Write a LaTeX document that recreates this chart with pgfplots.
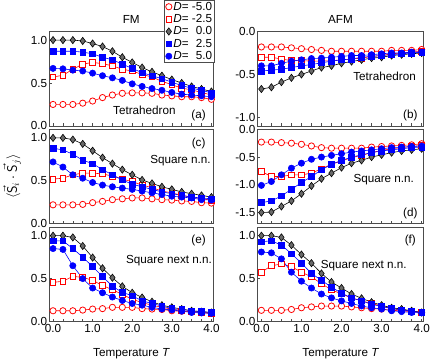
\documentclass[border=0pt]{standalone}
\usepackage{fontspec}
\setmainfont{Liberation Sans}
\usepackage{pgfplots}
\usepackage{pgfplotstable}
\pgfplotsset{compat=1.18}
\usepgfplotslibrary{groupplots}
\usetikzlibrary{calc}
\definecolor{dgray}{RGB}{105,105,105}
\newcommand{\lblfont}{\fontsize{12}{13}\selectfont}

% columns: T, D=-5.0, D=-2.5, D=0.0, D=2.5, D=5.0
\pgfplotstableread{
T    m5    m25   z     p25   p5
0.00 0.25  0.57  1.00  0.87  0.67
0.25 0.25  0.59  1.00  0.87  0.665
0.50 0.25  0.66  1.00  0.87  0.65
0.75 0.265 0.72  0.99  0.86  0.64
1.00 0.29  0.74  0.96  0.84  0.615
1.25 0.33  0.725 0.925 0.80  0.585
1.50 0.36  0.70  0.87  0.77  0.56
1.75 0.38  0.66  0.80  0.72  0.53
2.00 0.385 0.64  0.74  0.67  0.49
2.25 0.385 0.60  0.68  0.62  0.46
2.50 0.38  0.57  0.63  0.585 0.435
2.75 0.36  0.52  0.585 0.55  0.415
3.00 0.35  0.48  0.54  0.51  0.39
3.25 0.34  0.44  0.50  0.47  0.37
3.50 0.34  0.42  0.46  0.44  0.36
3.75 0.33  0.39  0.43  0.415 0.35
4.00 0.31  0.36  0.40  0.385 0.34
}\tetFM

\pgfplotstableread{
T    m5    m25   z     p25   p5
0.00 -0.18 -0.30 -0.67 -0.46 -0.40
0.25 -0.18 -0.30 -0.65 -0.45 -0.40
0.50 -0.18 -0.32 -0.59 -0.44 -0.37
0.75 -0.19 -0.34 -0.54 -0.42 -0.345
1.00 -0.20 -0.34 -0.50 -0.40 -0.33
1.25 -0.21 -0.345 -0.46 -0.385 -0.315
1.50 -0.22 -0.345 -0.42 -0.365 -0.31
1.75 -0.23 -0.34 -0.40 -0.345 -0.30
2.00 -0.23 -0.33 -0.37 -0.33 -0.29
2.25 -0.23 -0.32 -0.35 -0.32 -0.28
2.50 -0.23 -0.31 -0.33 -0.30 -0.28
2.75 -0.23 -0.29 -0.31 -0.29 -0.27
3.00 -0.23 -0.28 -0.30 -0.28 -0.26
3.25 -0.22 -0.26 -0.28 -0.27 -0.25
3.50 -0.22 -0.25 -0.27 -0.26 -0.25
3.75 -0.22 -0.24 -0.26 -0.25 -0.24
4.00 -0.21 -0.23 -0.25 -0.24 -0.24
}\tetAFM

\pgfplotstableread{
T    m5    m25   z     p25   p5
0.00 0.22  0.52  1.00  0.88  0.72
0.25 0.22  0.53  1.00  0.86  0.66
0.50 0.22  0.57  0.98  0.81  0.57
0.75 0.225 0.59  0.93  0.74  0.53
1.00 0.245 0.59  0.85  0.70  0.48
1.25 0.26  0.58  0.77  0.63  0.45
1.50 0.28  0.555 0.70  0.57  0.43
1.75 0.29  0.52  0.63  0.51  0.415
2.00 0.30  0.49  0.57  0.46  0.40
2.25 0.30  0.45  0.51  0.43  0.38
2.50 0.29  0.42  0.47  0.40  0.36
2.75 0.28  0.38  0.43  0.37  0.34
3.00 0.275 0.36  0.40  0.35  0.32
3.25 0.265 0.33  0.37  0.33  0.31
3.50 0.26  0.31  0.35  0.31  0.30
3.75 0.245 0.29  0.33  0.30  0.28
4.00 0.24  0.275 0.31  0.29  0.275
}\sqFM

\pgfplotstableread{
T    m5    m25   z     p25   p5
0.00 -0.23 -0.76 -1.50 -1.32 -1.01
0.25 -0.23 -0.85 -1.49 -1.29 -0.94
0.50 -0.24 -0.85 -1.39 -1.20 -0.82
0.75 -0.25 -0.82 -1.29 -1.08 -0.70
1.00 -0.27 -0.82 -1.16 -0.96 -0.61
1.25 -0.30 -0.79 -1.02 -0.85 -0.54
1.50 -0.33 -0.71 -0.89 -0.73 -0.50
1.75 -0.34 -0.63 -0.79 -0.63 -0.47
2.00 -0.34 -0.57 -0.69 -0.56 -0.44
2.25 -0.34 -0.51 -0.61 -0.50 -0.41
2.50 -0.34 -0.47 -0.56 -0.46 -0.39
2.75 -0.32 -0.42 -0.50 -0.42 -0.37
3.00 -0.31 -0.38 -0.46 -0.39 -0.35
3.25 -0.30 -0.35 -0.42 -0.37 -0.33
3.50 -0.29 -0.33 -0.39 -0.35 -0.32
3.75 -0.28 -0.31 -0.37 -0.33 -0.31
4.00 -0.26 -0.29 -0.35 -0.32 -0.30
}\sqAFM

\pgfplotstableread{
T    m5    m25   z     p25   p5
0.00 0.125 0.455 1.00  0.94  0.85
0.25 0.125 0.47  1.00  0.94  0.84
0.50 0.125 0.525 0.98  0.85  0.65
0.75 0.133 0.515 0.88  0.75  0.50
1.00 0.145 0.48  0.745 0.64  0.39
1.25 0.15  0.42  0.62  0.525 0.335
1.50 0.165 0.37  0.51  0.41  0.285
1.75 0.165 0.315 0.41  0.34  0.245
2.00 0.165 0.26  0.335 0.30  0.21
2.25 0.15  0.22  0.28  0.24  0.19
2.50 0.145 0.19  0.23  0.21  0.165
2.75 0.14  0.165 0.19  0.18  0.145
3.00 0.125 0.145 0.165 0.15  0.135
3.25 0.12  0.125 0.145 0.14  0.12
3.50 0.115 0.115 0.125 0.125 0.105
3.75 0.105 0.105 0.115 0.115 0.10
4.00 0.095 0.095 0.105 0.105 0.095
}\nnnFM

\pgfplotstableread{
T    m5    m25   z     p25   p5
0.00 0.13  0.575 1.00  0.93  0.81
0.25 0.13  0.65  1.00  0.94  0.80
0.50 0.13  0.67  0.98  0.89  0.73
0.75 0.14  0.64  0.89  0.79  0.575
1.00 0.16  0.575 0.78  0.68  0.47
1.25 0.17  0.52  0.68  0.56  0.39
1.50 0.18  0.44  0.56  0.48  0.32
1.75 0.18  0.37  0.46  0.40  0.275
2.00 0.18  0.32  0.39  0.33  0.24
2.25 0.17  0.275 0.32  0.275 0.21
2.50 0.16  0.24  0.27  0.24  0.18
2.75 0.15  0.21  0.225 0.20  0.16
3.00 0.145 0.18  0.19  0.175 0.145
3.25 0.13  0.15  0.16  0.15  0.125
3.50 0.125 0.135 0.145 0.135 0.115
3.75 0.115 0.12  0.125 0.12  0.105
4.00 0.105 0.105 0.105 0.105 0.10
}\nnnAFM

\pgfplotsset{
  sm5/.style={red, line width=0.6bp, mark=*, mark size=3.2bp, mark options={fill=white, draw=red, line width=0.8bp}},
  sm25/.style={red, line width=0.6bp, mark=square*, mark size=2.9bp, mark options={fill=white, draw=red, line width=0.8bp}},
  sz/.style={black, line width=0.6bp, mark=diamond*, mark size=3.7bp, mark options={fill=dgray, draw=black, line width=0.6bp}},
  sp25/.style={blue, line width=0.6bp, mark=square*, mark size=2.9bp, mark options={fill=blue, draw=blue}},
  sp5/.style={blue, line width=0.6bp, mark=*, mark size=3.2bp, mark options={fill=blue, draw=blue}},
}

\newcommand{\allplots}[1]{%
  \addplot[sm5] table[x=T, y=m5] {#1};
  \addplot[sm25] table[x=T, y=m25] {#1};
  \addplot[sz] table[x=T, y=z] {#1};
  \addplot[sp25] table[x=T, y=p25] {#1};
  \addplot[sp5] table[x=T, y=p5] {#1};
}

\begin{document}
\begin{tikzpicture}
\begin{groupplot}[
  group style={group size=2 by 3, horizontal sep=45bp, vertical sep=3.5bp,
               xticklabels at=edge bottom},
  scale only axis,
  width=168bp, height=96.5bp,
  xmin=-0.1, xmax=4.05,
  xtick={0,1,2,3,4},
  xticklabels={0.0,1.0,2.0,3.0,4.0},
  minor xtick={0,0.25,...,4},
  xtick pos=lower, ytick pos=left,
  tick align=inside,
  major tick length=3bp, minor tick length=3bp,
  axis line style={black!70, line width=0.6bp},
  every tick/.style={black!70, line width=0.5bp},
  every minor tick/.style={black!70, line width=0.5bp},
  tick label style={font=\lblfont},
  yticklabel style={xshift=1.5bp},
  xticklabel style={yshift=0.5bp},
  label style={font=\lblfont},
  title style={font=\lblfont, yshift=-1bp},
  clip=false,
]
% (a)
\nextgroupplot[ymin=0, ymax=1.1, ytick={0,0.5,1}, yticklabels={0.0,0.5,1.0},
  title={FM},
  legend style={at={(rel axis cs:0.702,1.334)}, anchor=north west,
    draw=black!70, fill=white, font=\lblfont, line width=0.6bp,
    inner xsep=1bp, inner ysep=0.3bp, nodes={inner ysep=1.4bp, inner xsep=1.5bp}},
  legend cell align=left,
  legend image code/.code={\draw[#1] plot coordinates {(0.14cm,0cm)};}]
\coordinate (tl) at (rel axis cs:0,1);
\allplots{\tetFM}
\legend{{\itshape D}= -5.0, {\itshape D}= -2.5, {\itshape D}= \phantom{-}0.0, {\itshape D}= \phantom{-}2.5, {\itshape D}= \phantom{-}5.0}
\node[font=\lblfont] at (rel axis cs:0.58,0.16) {Tetrahedron};
\node[font=\lblfont] at (rel axis cs:0.91,0.11) {(a)};
% (b)
\nextgroupplot[width=170bp, ymin=-1.1, ymax=0, ytick={-1,-0.5,0}, yticklabels={-1.0,-0.5,0.0},
  title={AFM}]
\allplots{\tetAFM}
\node[font=\lblfont] at (rel axis cs:0.765,0.53) {Tetrahedron};
\node[font=\lblfont] at (rel axis cs:0.92,0.11) {(b)};
% (c)
\nextgroupplot[ymin=0, ymax=1.1, ytick={0,0.5,1}, yticklabels={0.0,0.5,1.0},
  ylabel={$\langle \vec{\mathsf{S}}_{i}\cdot\vec{\mathsf{S}}_{j}\rangle$},
  ylabel style={at={(axis description cs:-0.225,0.5)}, anchor=center, font=\fontsize{14}{15}\selectfont}]
\allplots{\sqFM}
\node[font=\lblfont] at (rel axis cs:0.80,0.67) {Square n.n.};
\node[font=\lblfont] at (rel axis cs:0.91,0.855) {(c)};
% (d)
\nextgroupplot[width=170bp, ymin=-1.7, ymax=0, ytick={-1.5,-1,-0.5,0}, yticklabels={-1.5,-1.0,-0.5,0.0}]
\allplots{\sqAFM}
\node[font=\lblfont] at (rel axis cs:0.76,0.47) {Square n.n.};
\node[font=\lblfont] at (rel axis cs:0.92,0.11) {(d)};
% (e)
\nextgroupplot[ymin=0, ymax=1.1, ytick={0,0.5,1}, yticklabels={0.0,0.5,1.0},
  xlabel={Temperature {\itshape T}},
  xlabel style={at={(axis description cs:0.5,-0.34)}, anchor=center}]
\allplots{\nnnFM}
\node[font=\lblfont] at (rel axis cs:0.73,0.64) {Square next n.n.};
\node[font=\lblfont] at (rel axis cs:0.91,0.855) {(e)};
% (f)
\nextgroupplot[width=170bp, ymin=0, ymax=1.1, ytick={0,0.5,1}, yticklabels={0.0,0.5,1.0},
  xlabel={Temperature {\itshape T}},
  xlabel style={at={(axis description cs:0.5,-0.34)}, anchor=center}]
\allplots{\nnnAFM}
\node[font=\lblfont] at (rel axis cs:0.64,0.59) {Square next n.n.};
\node[font=\lblfont] at (rel axis cs:0.92,0.855) {(f)};
\end{groupplot}
\path ($(tl)+(-45bp,32bp)$) rectangle ($(tl)+(388bp,-338bp)$);
\end{tikzpicture}
\end{document}
